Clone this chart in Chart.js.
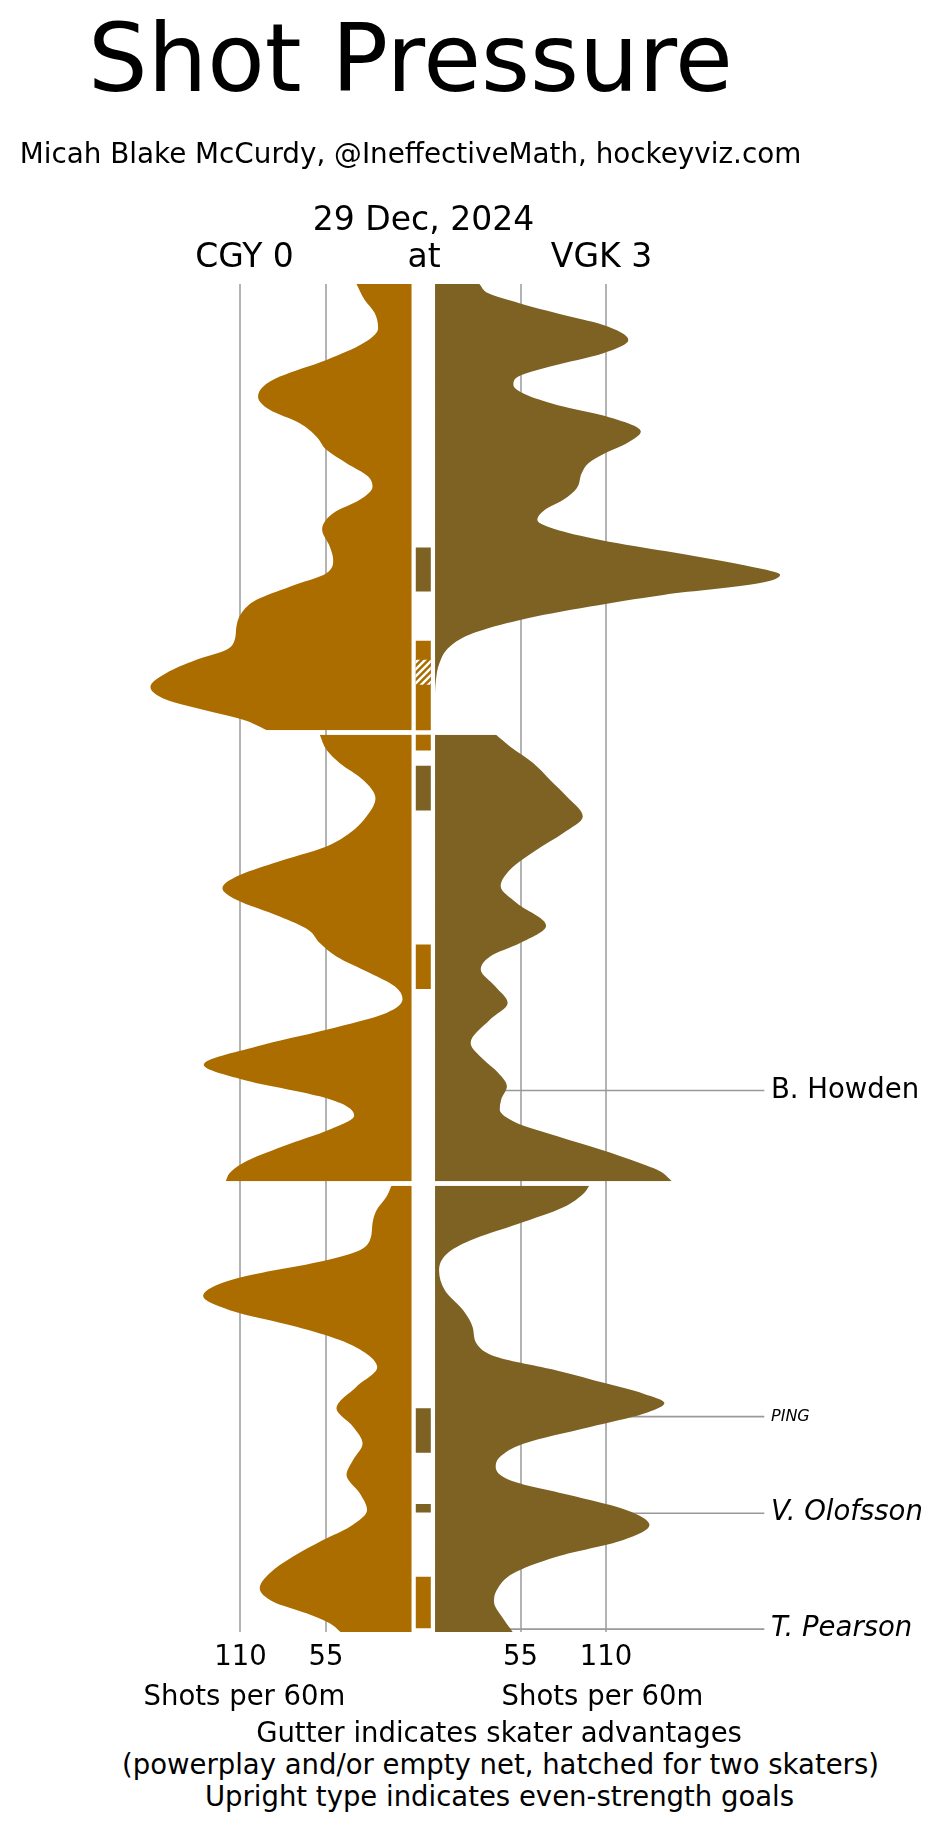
<!DOCTYPE html>
<html><head><meta charset="utf-8">
<script src="https://cdn.jsdelivr.net/npm/chart.js@4/dist/chart.umd.min.js"></script>
<style>
html,body{margin:0;padding:0;background:#fff;}
body{width:943px;height:1827px;position:relative;overflow:hidden;font-family:"DejaVu Sans",sans-serif;color:#000;}
.t{position:absolute;white-space:nowrap;line-height:1;transform:translateX(-50%);z-index:2;}
#wrap{position:absolute;left:0;top:0;width:943px;height:1690px;z-index:1;}
</style></head><body>
<div class="t" style="left:410.5px;top:12px;font-size:94px">Shot Pressure</div>
<div class="t" style="left:410.5px;top:140px;font-size:27.8px">Micah Blake McCurdy, @IneffectiveMath, hockeyviz.com</div>
<div class="t" style="left:423.5px;top:202px;font-size:33px">29 Dec, 2024</div>
<div class="t" style="left:244.5px;top:239px;font-size:33px">CGY 0</div>
<div class="t" style="left:424px;top:239px;font-size:33px">at</div>
<div class="t" style="left:601.5px;top:239px;font-size:33px">VGK 3</div>
<div id="wrap"><canvas id="c" width="943" height="1690"></canvas></div>
<div class="t" style="left:244.5px;top:1682px;font-size:27.5px">Shots per 60m</div>
<div class="t" style="left:602.5px;top:1682px;font-size:27.5px">Shots per 60m</div>
<div class="t" style="left:499px;top:1719px;font-size:27.5px">Gutter indicates skater advantages</div>
<div class="t" style="left:500.5px;top:1751px;font-size:27.5px">(powerplay and/or empty net, hatched for two skaters)</div>
<div class="t" style="left:499.5px;top:1783px;font-size:27.5px">Upright type indicates even-strength goals</div>
<script>
// ---------------- data ----------------
const periods = [1, 2, 3];
const teams = ['CGY', 'VGK'];

// CGY shot rate (shots per 60m), by period: times (min into period) and values
const cgyP1Times = [0,0.72,1.31,1.98,2.66,3.4,4.15,4.6,5.05,5.64,6.24,6.84,7.43,8.03,8.63,9.08,9.67,10.27,11.0,11.76,12.36,12.96,13.56,14.15,14.75,15.35,15.94,16.39,16.84,17.43,18.06,18.63,19.08,19.53,20];
const cgyP1Vals  = [35.4,30.1,23.6,21.5,31.1,54.7,84.7,95.5,98.7,91.2,71.9,61.1,54.7,41.8,27.9,25.1,33.3,50.4,57.5,52.6,50.4,54.7,78.3,99.7,109.4,112.6,113.7,119,138.3,157.6,167.9,157.6,134,108.3,92.9];
const cgyP2Times = [0,0.67,1.27,2.02,2.84,3.66,4.4,5.0,5.75,6.35,6.87,7.39,8.14,8.73,9.33,9.93,10.67,11.27,11.84,12.46,13.21,13.96,14.78,15.45,16.2,16.64,17.06,17.69,18.44,19.18,19.63,20];
const cgyP2Vals  = [59,54.7,46.1,31.1,23.2,29,39.7,54.7,89,112.6,121.6,112.6,84.7,66.5,59,48.3,26.8,10.8,5.8,16.1,54.7,99.7,133.6,108.3,59,41.8,36.9,52.6,82.6,108.3,116.9,119.5];
const cgyP3Times = [0,0.5,1.1,1.69,2.37,2.89,3.34,4.08,4.53,4.95,5.58,6.32,6.92,7.59,8.14,9.01,9.98,10.8,11.55,12.29,12.96,13.78,14.53,15.28,15.88,16.62,17.37,18.04,18.64,19.16,19.61,20];
const cgyP3Vals  = [12.9,16.1,22.5,25.1,26.4,33.3,54.7,108.3,127.6,134,116.9,74,46.1,27.9,22.1,35.4,48.3,37.6,31.5,37.6,41.8,33.3,28.6,39.7,56.9,76.2,91.2,97.6,89,67.6,52.6,45.7];

// VGK shot rate (shots per 60m), by period
const vgkP1Times = [0,0.42,0.87,1.31,1.84,2.51,3.1,3.7,4.15,4.52,4.97,5.49,5.94,6.61,7.13,7.58,8.03,8.48,9.15,9.67,10.12,10.57,11.09,11.61,12.21,12.66,13.03,13.4,13.93,14.45,15.05,15.64,16.24,16.99,17.73,18.6,20];
const vgkP1Vals  = [28.5,34.3,54.7,78.3,108.2,124.3,108.2,74,53.6,50.4,59,82.5,110.4,132.3,123.3,109.3,98.6,94.3,91.1,82.5,70.7,65.8,82.5,116.8,168.3,202.6,221.9,209,146.8,99.7,54.7,24.7,9.6,2.8,0.6,0,0];
const vgkP2Times = [0,0.52,1.27,2.02,2.76,3.66,4.4,5.15,6.05,6.79,7.54,8.55,9.33,9.93,10.52,11.27,12.02,12.76,13.81,14.55,15.15,15.75,16.35,16.79,17.39,17.84,18.44,19.03,19.56,20];
const vgkP2Vals  = [39.2,48.2,63.2,74,84.7,95,82.5,65.4,48.2,42.2,52.5,71.4,54.7,35.4,29.4,38.6,46.7,35.4,22.9,31.1,40.7,46.2,42.5,41.6,52.5,71.8,99.7,125.4,144.7,152.2];
const vgkP3Times = [0,0.37,0.97,1.71,2.46,3.06,3.8,4.7,5.59,6.34,7.08,7.68,8.28,8.87,9.32,9.74,10.22,10.81,11.56,12.15,12.6,13.2,13.94,14.54,15.21,15.88,16.63,17.37,18.12,18.64,19.31,20];
const vgkP3Vals  = [99.2,95.2,82.5,53.6,22.5,7.5,2.6,6.4,18.2,24.2,26.8,39.7,78.2,110.4,134,147.5,134,99.7,56.8,41.8,39,48.2,91.1,123.3,137.9,121.1,78.2,50.4,39.7,37.9,42.9,49.9];

// Skater advantages shown in the gutter: team, period (1-3), start, end (min), hatched = two skaters
const advTeam    = ['VGK','CGY','CGY','CGY','VGK','CGY','VGK','VGK','CGY'];
const advPeriod  = [1,1,1,2,2,2,3,3,3];
const advStart   = [11.81,15.99,16.84,0,1.39,9.4,9.98,14.26,17.52];
const advEnd     = [13.78,20,17.96,0.70,3.39,11.39,11.97,14.65,19.83];
const advHatched = [false,false,true,false,false,false,false,false,false];

// Goals
const goalNames   = ['B. Howden','PING','V. Olofsson','T. Pearson'];
const goalTeam    = ['VGK','VGK','VGK','VGK'];
const goalPeriod  = [2,3,3,3];
const goalTimes   = [15.94,10.35,14.68,19.87];
const goalEven    = [true,false,false,false];

// Axis ticks (shots per 60m)
const tickValues = [110,55];
const tickLabels = ['110','55'];

// ---------------- layout / style constants ----------------
const PERIOD_LEN = 20;
const PERIOD_GAP = 0.2;     // white gap between period panels (minutes)
const HALF_GUTTER = 7.56;   // half width of the central gutter (value units)
const X_MIN = -272.2, X_MAX = 334.2;
const LABEL_LINE_END = 219.3, LABEL_TEXT_X = 223.6;
const COLORS = {CGY: '#AB6C00', VGK: '#7D6223'};
const FONT = '"DejaVu Sans", sans-serif';

const toY = (period, t) => (period - 1) * (PERIOD_LEN + PERIOD_GAP) + t;
const side = team => team === 'CGY' ? -1 : 1;

function curve(team, period, times, vals) {
  const s = side(team);
  return {
    type: 'line',
    data: times.map((t, i) => ({x: s * (vals[i] + HALF_GUTTER), y: toY(period, t)})),
    backgroundColor: COLORS[team],
    borderWidth: 0,
    borderColor: 'rgba(0,0,0,0)',
    pointRadius: 0,
    cubicInterpolationMode: 'monotone',
    fill: {value: s * HALF_GUTTER},
    order: 2
  };
}

// hatch pattern
const pc = document.createElement('canvas');
pc.width = 7; pc.height = 7;
const pg = pc.getContext('2d');
pg.fillStyle = COLORS.CGY; pg.fillRect(0, 0, 7, 7);
pg.strokeStyle = '#fff'; pg.lineWidth = 2.4;
pg.beginPath();
pg.moveTo(-1, 8); pg.lineTo(8, -1);
pg.moveTo(-1, 1); pg.lineTo(1, -1);
pg.moveTo(6, 8); pg.lineTo(8, 6);
pg.stroke();
const hatchPattern = pg.createPattern(pc, 'repeat');

const datasets = [];
const curveSets = [
  ['CGY',1,cgyP1Times,cgyP1Vals],['CGY',2,cgyP2Times,cgyP2Vals],['CGY',3,cgyP3Times,cgyP3Vals],
  ['VGK',1,vgkP1Times,vgkP1Vals],['VGK',2,vgkP2Times,vgkP2Vals],['VGK',3,vgkP3Times,vgkP3Vals]
];
curveSets.forEach(c => datasets.push(curve(...c)));

advTeam.forEach((team, i) => {
  datasets.push({
    type: 'line',
    data: [{x: 0, y: toY(advPeriod[i], advStart[i])}, {x: 0, y: toY(advPeriod[i], advEnd[i])}],
    borderColor: advHatched[i] ? hatchPattern : COLORS[team],
    borderWidth: 15,
    borderCapStyle: 'butt',
    pointRadius: 0,
    fill: false,
    tension: 0,
    order: advHatched[i] ? 0 : 1
  });
});

goalNames.forEach((n, i) => {
  const s = side(goalTeam[i]);
  const y = toY(goalPeriod[i], goalTimes[i]);
  datasets.push({
    type: 'line',
    data: [{x: s * HALF_GUTTER, y}, {x: s * LABEL_LINE_END, y}],
    borderColor: '#999999',
    borderWidth: 1.6,
    pointRadius: 0,
    fill: false,
    tension: 0,
    order: 5
  });
});

const goalLabels = {
  id: 'goalLabels',
  afterDatasetsDraw(chart) {
    const {ctx, scales: {x, y}} = chart;
    ctx.save();
    ctx.fillStyle = '#000';
    ctx.textBaseline = 'middle';
    ctx.textAlign = 'left';
    goalNames.forEach((n, i) => {
      const small = n === 'PING';
      ctx.font = (goalEven[i] ? '' : 'italic ') + (small ? '16px ' : '27.5px ') + FONT;
      ctx.fillText(n, x.getPixelForValue(side(goalTeam[i]) * LABEL_TEXT_X), y.getPixelForValue(toY(goalPeriod[i], goalTimes[i])));
    });
    ctx.restore();
  }
};

const allTicks = [-(tickValues[0] + HALF_GUTTER), -(tickValues[1] + HALF_GUTTER), tickValues[1] + HALF_GUTTER, tickValues[0] + HALF_GUTTER];
const allTickLabels = [tickLabels[0], tickLabels[1], tickLabels[1], tickLabels[0]];

new Chart(document.getElementById('c'), {
  type: 'line',
  data: {datasets},
  plugins: [goalLabels],
  options: {
    indexAxis: 'y',
    responsive: false,
    animation: false,
    events: [],
    layout: {padding: {top: 284, left: 0, right: 0, bottom: 0}},
    plugins: {legend: {display: false}, tooltip: {enabled: false}},
    scales: {
      x: {
        type: 'linear', position: 'bottom', min: X_MIN, max: X_MAX,
        grid: {color: '#b3b3b3', lineWidth: 2, drawTicks: false},
        border: {display: false},
        afterBuildTicks: s => { s.ticks = allTicks.map(v => ({value: v})); },
        afterFit: s => { s.height = 58; },
        ticks: {
          autoSkip: false, maxRotation: 0, padding: 9, color: '#000',
          font: {family: FONT, size: 27.5},
          callback: (v, i) => allTickLabels[i]
        }
      },
      y: {
        type: 'linear', reverse: true, min: 0, max: 3 * PERIOD_LEN + 2 * PERIOD_GAP,
        display: false
      }
    }
  }
});
</script>
</body></html>
